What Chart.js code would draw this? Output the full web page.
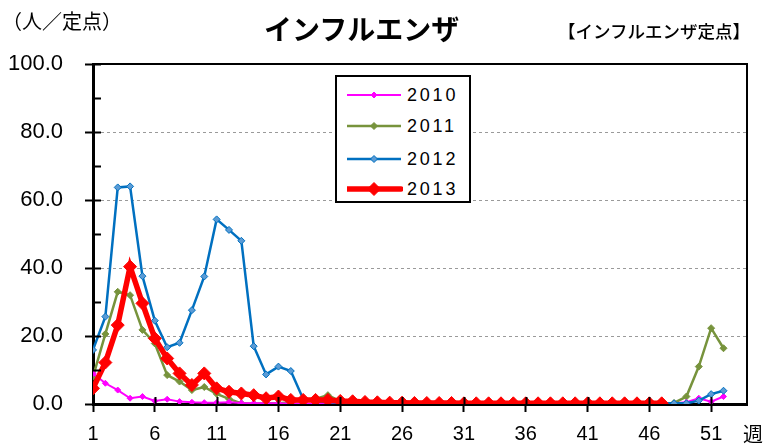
<!DOCTYPE html>
<html><head><meta charset="utf-8">
<script src="https://cdn.jsdelivr.net/npm/chart.js@4"></script>
<style>
html,body{margin:0;padding:0;background:#fff;}
#wrap{position:relative;width:769px;height:444px;overflow:hidden;}
canvas{position:absolute;left:0;top:0;}
.t{position:absolute;white-space:nowrap;font-family:"Noto Sans CJK JP",sans-serif;color:#000;line-height:1;}
#legend{position:absolute;left:335px;top:75px;width:132px;height:124px;border:2px solid #000;background:#fff;}
.row{position:absolute;left:10px;height:20px;}
.row svg{position:absolute;left:0;top:0;}
.row span{position:absolute;left:60px;top:0;font-family:"Liberation Sans",Arial,sans-serif;font-size:18px;letter-spacing:2.8px;line-height:20px;}
</style></head>
<body><div id="wrap">
<canvas id="c" width="769" height="444"></canvas>
<div class="t" style="left:2px;top:11px;font-size:20px;">（人／定点）</div>
<div class="t" style="left:264px;top:14px;font-size:28px;font-weight:bold;">インフルエンザ</div>
<div class="t" style="left:558px;top:22px;font-size:17.5px;font-weight:500;">【インフルエンザ定点】</div>
<div class="t" style="left:743px;top:424px;font-size:20px;">週</div>
<div id="legend"></div>
</div>
<script>
const weeks = Array.from({length:52},(_,i)=>i+1);
const xTickLabels = [1,6,11,16,21,26,31,36,41,46,51];
const yTickLabels = [0,20,40,60,80,100];
const seriesNames = ['2010','2011','2012','2013'];
const v2010 = [9.0,6.1,4.1,1.7,2.2,0.9,1.4,0.7,0.5,0.4,0.4,0.5,0.3,0.2,0.2,0.2,0.1,0.1,0.1,0.1,0.1,0.1,0.1,0.1,0.1,0.1,0.1,0.1,0.1,0.1,0.1,0.1,0.1,0.1,0.1,0.1,0.1,0.1,0.1,0.1,0.1,0.1,0.1,0.1,0.1,0.1,0.1,0.2,0.5,1.7,0.7,2.2];
const v2011 = [8.0,20.6,33.0,32.0,21.8,17.8,8.5,6.6,4.1,5.0,3.0,1.5,0.2,0.1,0.2,0.2,0.5,1.0,1.5,2.6,0.8,0.4,0.2,0.1,0.1,0.1,0.1,0.1,0.1,0.1,0.1,0.1,0.1,0.1,0.1,0.1,0.1,0.1,0.1,0.1,0.1,0.1,0.1,0.1,0.1,0.1,0.1,0.3,2.2,11.0,22.3,16.4];
const v2012 = [15.9,25.7,63.7,64.0,37.6,24.5,16.7,18.0,27.6,37.5,54.3,51.2,48.0,17.0,8.7,11.0,9.7,1.5,0.8,0.5,0.4,0.3,0.2,0.2,0.2,0.2,0.2,0.2,0.2,0.2,0.2,0.2,0.2,0.2,0.2,0.2,0.2,0.2,0.2,0.2,0.2,0.2,0.2,0.2,0.2,0.2,0.2,0.2,0.2,1.0,2.9,3.9];
const v2013 = [4.6,12.2,23.2,40.4,29.6,19.3,13.4,9.0,5.6,9.0,4.6,3.6,3.1,2.6,1.7,2.2,1.2,1.2,1.2,1.2,0.9,0.8,0.6,0.5,0.4,0.4,0.3,0.3,0.3,0.3,0.2,0.2,0.2,0.2,0.2,0.2,0.2,0.2,0.2,0.2,0.2,0.2,0.2,0.2,0.2,0.2,0.2];

const styles = [
  {color:'#FF00FF', fill:'#FF00FF', lw:2, r:3, order:2},
  {color:'#77933C', fill:'#77933C', lw:2.5, r:3.5, order:3},
  {color:'#0070C0', fill:'#5B9BD5', lw:2.5, r:3.5, order:1},
  {color:'#FF0000', fill:'#FF0000', lw:5.5, r:6.5, order:0}
];
const values = [v2010,v2011,v2012,v2013];
const datasets = values.map((vals,i)=>({
  label: seriesNames[i],
  data: vals.map((v,j)=>({x:weeks[j], y:v})),
  borderColor: styles[i].color,
  backgroundColor: styles[i].fill,
  pointBackgroundColor: styles[i].fill,
  pointBorderColor: styles[i].color,
  pointBorderWidth: 1,
  borderWidth: styles[i].lw,
  pointStyle: 'rectRot',
  pointRadius: styles[i].r,
  tension: 0,
  order: styles[i].order
}));

const frame = {
  id:'frame',
  afterDraw(chart){
    const {ctx, chartArea:a, scales:{x,y}} = chart;
    ctx.save();
    ctx.strokeStyle='#000';
    ctx.lineWidth=2;
    ctx.beginPath();
    ctx.moveTo(a.left,a.top); ctx.lineTo(a.right,a.top); ctx.lineTo(a.right,a.bottom);
    ctx.stroke();
    ctx.beginPath();
    for(let v=0; v<=100; v+=10){
      const py=Math.round(y.getPixelForValue(v))+0.5;
      ctx.moveTo(a.left, py); ctx.lineTo(a.left+8, py);
    }
    xTickLabels.forEach(w=>{
      const px=Math.round(x.getPixelForValue(w))+0.5;
      ctx.moveTo(px,a.bottom); ctx.lineTo(px,a.bottom-7);
    });
    ctx.stroke();
    ctx.restore();
  }
};

new Chart(document.getElementById('c'),{
  type:'line',
  data:{datasets},
  plugins:[frame],
  options:{
    responsive:false,
    animation:false,
    devicePixelRatio:1,
    layout:{padding:{left:0,top:64,right:22,bottom:0}},
    plugins:{legend:{display:false},tooltip:{enabled:false},title:{display:false}},
    scales:{
      x:{
        type:'linear', min:1, max:53.9,
        afterFit(s){ s.height=40; },
        afterBuildTicks(s){ s.ticks = xTickLabels.map(v=>({value:v})); },
        ticks:{autoSkip:false, maxRotation:0, padding:10, color:'#000', font:{family:'"Liberation Sans", Arial, sans-serif', size:20},
          callback:v=>String(v)},
        grid:{drawOnChartArea:false, tickLength:8, tickColor:'#000', tickWidth:2},
        border:{color:'#000', width:3}
      },
      y:{
        min:0, max:100,
        afterFit(s){ s.width=93; },
        afterBuildTicks(s){ s.ticks = [0,10,20,30,40,50,60,70,80,90,100].map(v=>({value:v})); },
        ticks:{padding:22, color:'#000', font:{family:'"Liberation Sans", Arial, sans-serif', size:22},
          callback:v=> yTickLabels.includes(v) ? v.toFixed(1) : ''},
        grid:{
          color:c=> (c.tick && c.tick.value%20===0 && c.tick.value>0 && c.tick.value<100) ? '#9a9a9a' : 'rgba(0,0,0,0)',
          lineWidth:1,
          tickLength:8,
          tickColor:c=> (c.tick && c.tick.value%20===0) ? '#000' : 'rgba(0,0,0,0)',
          tickWidth:2
        },
        border:{color:'#000', width:3, dash:[3,3]}
      }
    }
  }
});

const leg=document.getElementById('legend');
const rowsY=[8,39,72,102];
seriesNames.forEach((n,i)=>{
  const s=styles[i];
  const d=document.createElement('div');
  d.className='row'; d.style.top=rowsY[i]+'px';
  const r=s.r;
  d.innerHTML='<svg width="56" height="20"><line x1="0" y1="10" x2="54" y2="10" stroke="'+s.color+'" stroke-width="'+s.lw+'" stroke-linecap="'+(i===3?'round':'butt')+'"/>'+
    '<polygon points="27,'+(10-r)+' '+(27+r)+',10 27,'+(10+r)+' '+(27-r)+',10" fill="'+s.fill+'" stroke="'+s.color+'" stroke-width="1"/></svg><span>'+n+'</span>';
  leg.appendChild(d);
});
</script>
</body></html>
